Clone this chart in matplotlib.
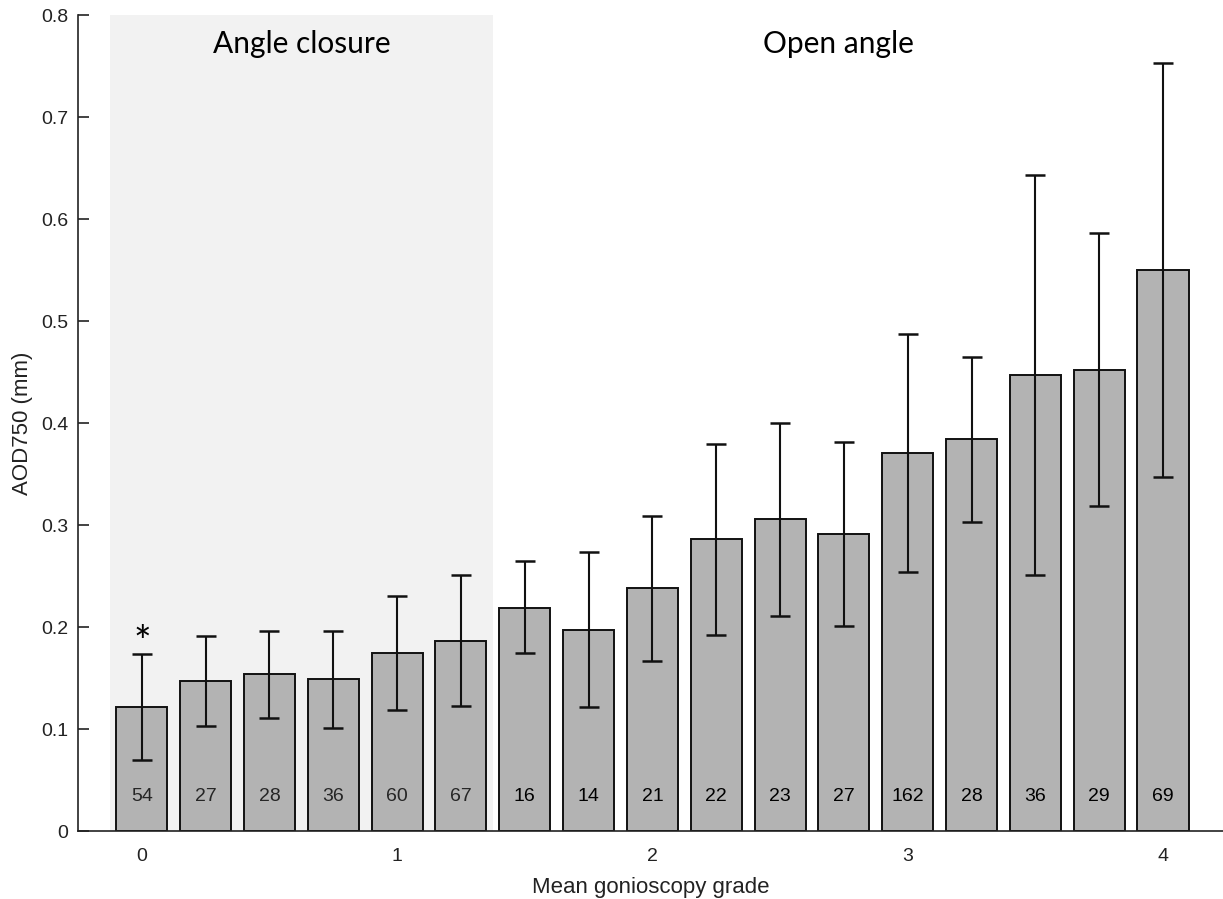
import numpy as np
import matplotlib
matplotlib.use("Agg")
import matplotlib.pyplot as plt

# gonioscopy grade bins (0 to 4 in quarter steps)
grades = np.arange(0, 4.01, 0.25)
aod_mean = [0.122, 0.147, 0.154, 0.149, 0.175, 0.186, 0.219, 0.197, 0.238,
            0.286, 0.306, 0.291, 0.371, 0.384, 0.447, 0.452, 0.550]
err_upper = [0.174, 0.191, 0.196, 0.196, 0.230, 0.251, 0.265, 0.274, 0.309,
             0.379, 0.400, 0.381, 0.487, 0.465, 0.643, 0.586, 0.753]
err_lower = [0.070, 0.103, 0.111, 0.101, 0.119, 0.123, 0.175, 0.122, 0.167,
             0.192, 0.211, 0.201, 0.254, 0.303, 0.251, 0.319, 0.347]
counts = [54, 27, 28, 36, 60, 67, 16, 14, 21, 22, 23, 27, 162, 28, 36, 29, 69]
n_closure = 6

plt.rcParams['font.family'] = ['Liberation Sans', 'DejaVu Sans']

fig = plt.figure(figsize=(12.23, 8.99), dpi=100)
ax = fig.add_axes([0.0638, 0.0756, 0.9362, 0.9077])

ax.axvspan(-0.125, 1.375, color='#f2f2f2', zorder=0, lw=0)

mean = np.array(aod_mean)
yerr = [mean - np.array(err_lower), np.array(err_upper) - mean]
ax.bar(grades, mean, width=0.2, color='#b3b3b3', edgecolor='#111111',
       linewidth=1.4, zorder=2)
ax.errorbar(grades, mean, yerr=yerr, fmt='none', ecolor='#111111',
            elinewidth=1.5, capsize=7, capthick=1.8, zorder=3)

for i, (g, n) in enumerate(zip(grades, counts)):
    col = '#262626' if i < n_closure else '#000000'
    ax.text(g, 0.034, str(n), ha='center', va='center', fontsize=14,
            color=col)

ax.text(grades[0], 0.183, '*', ha='center', va='center', fontsize=30,
        family=['Lato', 'DejaVu Sans'])

ax.text(0.625, 0.772, 'Angle closure', ha='center', va='center',
        fontsize=21.5, family=['Lato', 'DejaVu Sans'])
ax.text(2.73, 0.772, 'Open angle', ha='center', va='center',
        fontsize=21.5, family=['Lato', 'DejaVu Sans'])

ax.set_xlim(-0.25, 4.235)
ax.set_ylim(0, 0.8)
ax.set_xticks([0, 1, 2, 3, 4])
ax.set_yticks(np.arange(0, 0.81, 0.1))
ax.set_yticklabels(['0'] + ['%.1f' % v for v in np.arange(0.1, 0.81, 0.1)])
ax.tick_params(axis='y', direction='in', length=8, width=1.2, pad=7,
               labelsize=14, colors='#222222')
ax.tick_params(axis='x', length=0, pad=12, labelsize=14, colors='#222222')

for s in ['top', 'right']:
    ax.spines[s].set_visible(False)
for s in ['left', 'bottom']:
    ax.spines[s].set_linewidth(1.2)
    ax.spines[s].set_color('#222222')

ax.set_xlabel('Mean gonioscopy grade', fontsize=16, color='#222222',
              labelpad=9)
ax.set_ylabel('AOD750 (mm)', fontsize=16, color='#222222', labelpad=6)

fig.savefig('out.png', dpi=100)
